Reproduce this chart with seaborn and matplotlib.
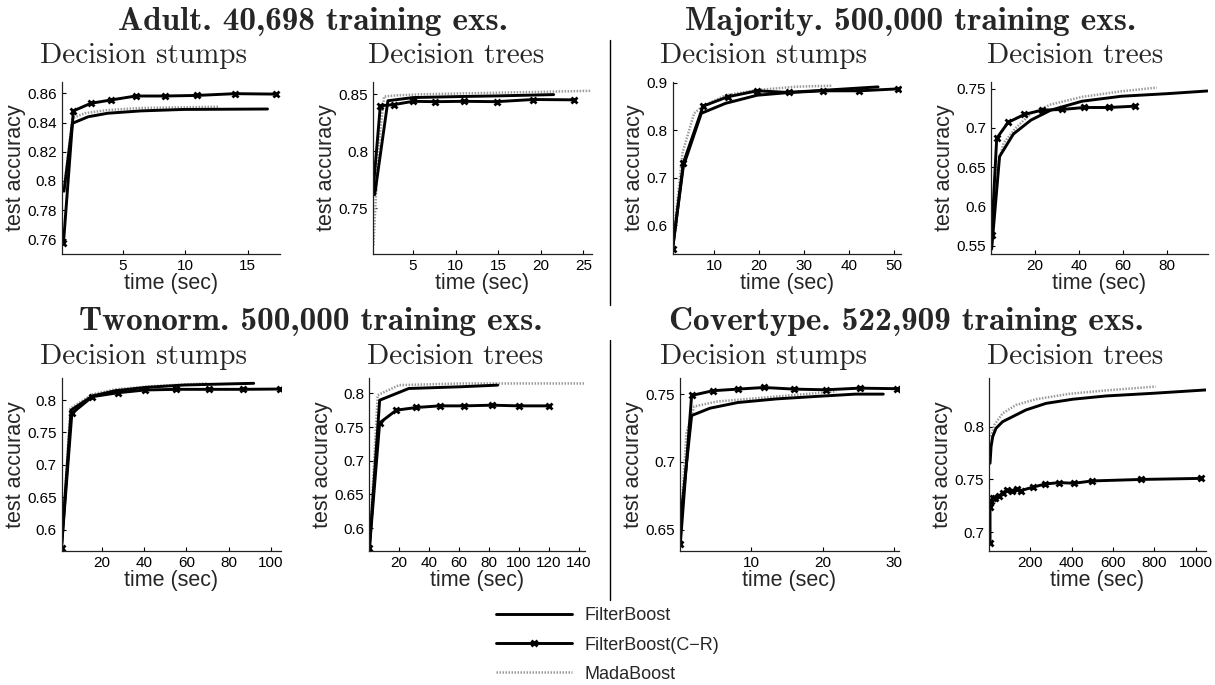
import numpy as np
import pandas as pd
import matplotlib
matplotlib.use("Agg")
import matplotlib.pyplot as plt
from matplotlib.ticker import FuncFormatter
from matplotlib.lines import Line2D
import seaborn as sns

# ---------------- data ----------------
series_names = ["FilterBoost", "FilterBoost(C\u2212R)", "MadaBoost"]

# Adult, decision stumps
adult_st_fb_t = [0.3, 0.97, 2.24, 3.8, 6.45, 9.87, 16.6]
adult_st_fb_y = [0.793, 0.8395, 0.844, 0.8464, 0.848, 0.849, 0.8493]
adult_st_cr_t = [0.26, 1.05, 2.45, 4.08, 6.05, 8.37, 10.97, 14.0, 17.3]
adult_st_cr_y = [0.7577, 0.848, 0.8532, 0.8555, 0.8582, 0.8582, 0.8586, 0.8598, 0.8595]
adult_st_mb_t = [0.3, 0.97, 1.97, 3.8, 6.45, 12.76]
adult_st_mb_y = [0.795, 0.843, 0.8464, 0.8486, 0.85, 0.8509]

# Adult, decision trees
adult_tr_fb_t = [0.5, 2.05, 5.0, 10.6, 15.15, 21.5]
adult_tr_fb_y = [0.762, 0.8443, 0.8471, 0.848, 0.8486, 0.8497]
adult_tr_cr_t = [0.35, 1.16, 2.74, 5.0, 7.6, 10.95, 14.8, 19.1, 23.9]
adult_tr_cr_y = [0.7688, 0.8399, 0.8409, 0.8438, 0.8435, 0.8438, 0.8435, 0.8454, 0.8451]
adult_tr_mb_t = [0.35, 0.9, 1.6, 3.0, 6.1, 15.2, 25.8]
adult_tr_mb_y = [0.7175, 0.80, 0.848, 0.849, 0.85, 0.8514, 0.853]

# Majority, decision stumps
major_st_fb_t = [0.83, 3.2, 7.2, 12.6, 19.6, 28.3, 37.0, 46.5]
major_st_fb_y = [0.553, 0.724, 0.836, 0.857, 0.874, 0.881, 0.886, 0.8916]
major_st_cr_t = [0.83, 3.2, 7.6, 13.05, 19.6, 26.8, 34.3, 42.3, 50.9]
major_st_cr_y = [0.5497, 0.7312, 0.8511, 0.8707, 0.8833, 0.8798, 0.8833, 0.8833, 0.8874]
major_st_mb_t = [0.83, 3.0, 5.6, 7.4, 12.6, 19.6, 28.3, 36.2]
major_st_mb_y = [0.557, 0.752, 0.836, 0.85, 0.874, 0.885, 0.892, 0.894]

# Majority, decision trees
major_tr_fb_t = [0.3, 3.9, 10.2, 18.2, 27.2, 41.5, 59.4, 80.9, 98.5]
major_tr_fb_y = [0.546, 0.6637, 0.6923, 0.71, 0.7226, 0.734, 0.7403, 0.7437, 0.747]
major_tr_cr_t = [0.3, 2.6, 7.8, 15.2, 23.2, 32.5, 42.4, 53.7, 65.7]
major_tr_cr_y = [0.5639, 0.6868, 0.7071, 0.7172, 0.7226, 0.7235, 0.726, 0.726, 0.7277]
major_tr_mb_t = [0.3, 2.1, 5.7, 11.1, 18.2, 27.2, 41.5, 59.4, 75.5]
major_tr_mb_y = [0.554, 0.6426, 0.6805, 0.6995, 0.7184, 0.7298, 0.7395, 0.7466, 0.7513]

# Twonorm, decision stumps
twon_st_fb_t = [0.9, 5.45, 15.5, 26.4, 40.9, 59.1, 77.3, 91.8]
twon_st_fb_y = [0.5722, 0.7845, 0.8062, 0.8144, 0.8196, 0.8232, 0.8247, 0.8258]
twon_st_cr_t = [0.9, 5.8, 15.5, 27.8, 40.5, 55.1, 70.5, 86.7, 104.3]
twon_st_cr_y = [0.5722, 0.7794, 0.8052, 0.8113, 0.8155, 0.8165, 0.8165, 0.8165, 0.817]
twon_st_mb_t = [0.9, 5.1, 15.5, 26.4, 44.5, 70.0]
twon_st_mb_y = [0.5722, 0.787, 0.8088, 0.8165, 0.8216, 0.8258]

# Twonorm, decision trees
twon_tr_fb_t = [0.3, 7.1, 26.5, 61.3, 85.8]
twon_tr_fb_y = [0.5707, 0.790, 0.8074, 0.81, 0.8124]
twon_tr_cr_t = [0.3, 7.1, 18.2, 31.6, 47.1, 63.4, 82.0, 100.0, 120.0]
twon_tr_cr_y = [0.5707, 0.7563, 0.7752, 0.7792, 0.7816, 0.7816, 0.7826, 0.7816, 0.7816]
twon_tr_mb_t = [0.3, 5.8, 20.0, 61.3, 143.5]
twon_tr_mb_y = [0.5707, 0.7975, 0.8124, 0.8149, 0.8149]

# Covertype, decision stumps
cover_st_fb_t = [0.05, 1.63, 4.2, 8.1, 13.6, 19.1, 24.6, 28.5]
cover_st_fb_y = [0.6557, 0.7342, 0.7396, 0.7438, 0.7465, 0.7483, 0.75, 0.75]
cover_st_cr_t = [0.05, 1.63, 4.6, 8.1, 11.8, 15.95, 20.4, 25.2, 30.4]
cover_st_cr_y = [0.6396, 0.749, 0.7525, 0.7537, 0.7549, 0.7537, 0.7532, 0.7544, 0.754]
cover_st_mb_t = [0.05, 0.9, 2.0, 5.3, 10.8, 16.3, 21.9]
cover_st_mb_y = [0.65, 0.7211, 0.7409, 0.7446, 0.747, 0.7495, 0.752]

# Covertype, decision trees
cover_tr_fb_t = [5, 10, 18, 34, 66, 115, 179, 276, 405, 566, 791, 1049]
cover_tr_fb_y = [0.7653, 0.781, 0.7905, 0.7984, 0.8047, 0.8095, 0.8158, 0.822, 0.8259, 0.829, 0.8315, 0.8347]
cover_tr_cr_t = [5, 5, 10, 18, 31, 47, 66, 86, 112, 134, 155, 211, 272, 340, 413, 498, 735, 1024]
cover_tr_cr_y = [0.6896, 0.7243, 0.73, 0.7322, 0.7328, 0.7344, 0.737, 0.740, 0.7395, 0.741, 0.7395,
                 0.7426, 0.7457, 0.747, 0.7464, 0.7486, 0.750, 0.751]
cover_tr_mb_t = [10, 26, 66, 131, 227, 388, 550, 807]
cover_tr_mb_y = [0.7905, 0.8016, 0.8126, 0.8205, 0.8259, 0.831, 0.834, 0.8379]

# titles and ticks
dataset_titles = ["Adult. 40,698 training exs.", "Majority. 500,000 training exs.",
                  "Twonorm. 500,000 training exs.", "Covertype. 522,909 training exs."]
learner_titles = ["Decision stumps", "Decision trees"]

adult_st_yticks = [0.76, 0.78, 0.8, 0.82, 0.84, 0.86]
adult_st_xticks = [5, 10, 15]
adult_tr_yticks = [0.75, 0.8, 0.85]
adult_tr_xticks = [5, 10, 15, 20, 25]
major_st_yticks = [0.6, 0.7, 0.8, 0.9]
major_st_xticks = [10, 20, 30, 40, 50]
major_tr_yticks = [0.55, 0.6, 0.65, 0.7, 0.75]
major_tr_xticks = [20, 40, 60, 80]
twon_st_yticks = [0.6, 0.65, 0.7, 0.75, 0.8]
twon_st_xticks = [20, 40, 60, 80, 100]
twon_tr_yticks = [0.6, 0.65, 0.7, 0.75, 0.8]
twon_tr_xticks = [20, 40, 60, 80, 100, 120, 140]
cover_st_yticks = [0.65, 0.7, 0.75]
cover_st_xticks = [10, 20, 30]
cover_tr_yticks = [0.7, 0.75, 0.8]
cover_tr_xticks = [200, 400, 600, 800, 1000]

# ---------------- layout ----------------
W, H = 1215, 685
sns.set_theme(style="ticks")
plt.rcParams["font.family"] = ["Liberation Sans", "DejaVu Sans"]
plt.rcParams["axes.unicode_minus"] = True

fig = plt.figure(figsize=(W / 100, H / 100), dpi=100)
fig.patch.set_facecolor("white")


def px_axes(left, right, top, bottom):
    return fig.add_axes([left / W, 1 - bottom / H, (right - left) / W, (bottom - top) / H])


panels = [
    # (axes px box, xlim, ylim, xticks, yticks, data)
    ((61.5, 280, 81.7, 254), (0.1, 17.6), (0.750, 0.868), adult_st_xticks, adult_st_yticks,
     [(adult_st_fb_t, adult_st_fb_y), (adult_st_cr_t, adult_st_cr_y), (adult_st_mb_t, adult_st_mb_y)]),
    ((373, 592, 81.7, 254), (0.3, 26.0), (0.710, 0.861), adult_tr_xticks, adult_tr_yticks,
     [(adult_tr_fb_t, adult_tr_fb_y), (adult_tr_cr_t, adult_tr_cr_y), (adult_tr_mb_t, adult_tr_mb_y)]),
    ((672.5, 901, 81.7, 254), (0.8, 51.6), (0.540, 0.9025), major_st_xticks, major_st_yticks,
     [(major_st_fb_t, major_st_fb_y), (major_st_cr_t, major_st_cr_y), (major_st_mb_t, major_st_mb_y)]),
    ((991, 1208, 81.7, 254), (0.0, 98.8), (0.5397, 0.7588), major_tr_xticks, major_tr_yticks,
     [(major_tr_fb_t, major_tr_fb_y), (major_tr_cr_t, major_tr_cr_y), (major_tr_mb_t, major_tr_mb_y)]),
    ((61.5, 281, 378, 551), (0.9, 104.7), (0.567, 0.834), twon_st_xticks, twon_st_yticks,
     [(twon_st_fb_t, twon_st_fb_y), (twon_st_cr_t, twon_st_cr_y), (twon_st_mb_t, twon_st_mb_y)]),
    ((369, 585, 378, 551), (0.0, 144.0), (0.566, 0.823), twon_tr_xticks, twon_tr_yticks,
     [(twon_tr_fb_t, twon_tr_fb_y), (twon_tr_cr_t, twon_tr_cr_y), (twon_tr_mb_t, twon_tr_mb_y)]),
    ((680, 899, 378, 551), (0.0, 30.7), (0.6342, 0.7619), cover_st_xticks, cover_st_yticks,
     [(cover_st_fb_t, cover_st_fb_y), (cover_st_cr_t, cover_st_cr_y), (cover_st_mb_t, cover_st_mb_y)]),
    ((989, 1206, 378, 551), (0.0, 1050.0), (0.6823, 0.846), cover_tr_xticks, cover_tr_yticks,
     [(cover_tr_fb_t, cover_tr_fb_y), (cover_tr_cr_t, cover_tr_cr_y), (cover_tr_mb_t, cover_tr_mb_y)]),
]

styles = [
    dict(color="black", lw=2.1, linestyle="-"),
    dict(color="black", lw=2.1, linestyle="-", marker="x", markersize=4.5,
         markeredgewidth=2.0, markeredgecolor="black", markerfacecolor="black"),
    dict(color="#9a9a9a", lw=1.8, linestyle=(0, (0.6, 0.6))),
]

fmt = FuncFormatter(lambda v, p: f"{v:g}")
axes = []
for box, xl, yl, xt, yt, data in panels:
    ax = px_axes(*box)
    # draw MadaBoost first (behind), then FilterBoost, then C-R
    for idx in (2, 0, 1):
        t, y = data[idx]
        df = pd.DataFrame({"t": t, "acc": y})
        sns.lineplot(data=df, x="t", y="acc", ax=ax, estimator=None, sort=False,
                     legend=False, **styles[idx])
    ax.set_xlim(*xl)
    ax.set_ylim(*yl)
    ax.set_xticks(xt)
    ax.set_yticks(yt)
    ax.xaxis.set_major_formatter(fmt)
    ax.yaxis.set_major_formatter(fmt)
    for s in ("top", "right"):
        ax.spines[s].set_visible(False)
    for s in ("left", "bottom"):
        ax.spines[s].set_color("#222222")
        ax.spines[s].set_linewidth(0.9)
    ax.tick_params(direction="in", length=3, width=0.8, labelsize=11, pad=3.5, colors="black")
    ax.set_xlabel("time (sec)", fontsize=15.5, labelpad=0)
    ax.set_ylabel("test accuracy", fontsize=15.5, labelpad=1)
    ax.set_facecolor("white")
    axes.append(ax)

# titles
title_font_bold = dict(family="cmb10", fontsize=24)
title_font = dict(family="cmr10", fontsize=21)
ds_pos = [(313, 21), (911, 21), (311, 321), (906, 321)]
for (x, y), txt in zip(ds_pos, dataset_titles):
    fig.text(x / W, 1 - y / H, txt, ha="center", va="center", **title_font_bold)

sub_pos = [(144, 56), (456, 56), (764, 56), (1075, 56),
           (144, 357), (455, 357), (764, 357), (1075, 357)]
for i, (x, y) in enumerate(sub_pos):
    fig.text(x / W, 1 - y / H, learner_titles[i % 2], ha="center", va="center", **title_font)

# divider lines
fig.add_artist(Line2D([609.5 / W, 609.5 / W], [1 - 40 / H, 1 - 305 / H], transform=fig.transFigure,
                      color="black", lw=1.0))
fig.add_artist(Line2D([609.5 / W, 609.5 / W], [1 - 340 / H, 1 - 600 / H], transform=fig.transFigure,
                      color="black", lw=1.0))

# legend (handles taken from the first panel's lines: order mb, fb, cr)
l = axes[0].get_lines()
handles = [l[1], l[2], l[0]]
fig.legend(handles, series_names, loc="center", bbox_to_anchor=(608 / W, 1 - 645 / H),
           frameon=False, fontsize=13, handlelength=4.2, handletextpad=0.7,
           labelspacing=0.68, borderpad=0.0, borderaxespad=0.0, markerscale=1.0)

fig.savefig("out.png", dpi=100, facecolor="white")
